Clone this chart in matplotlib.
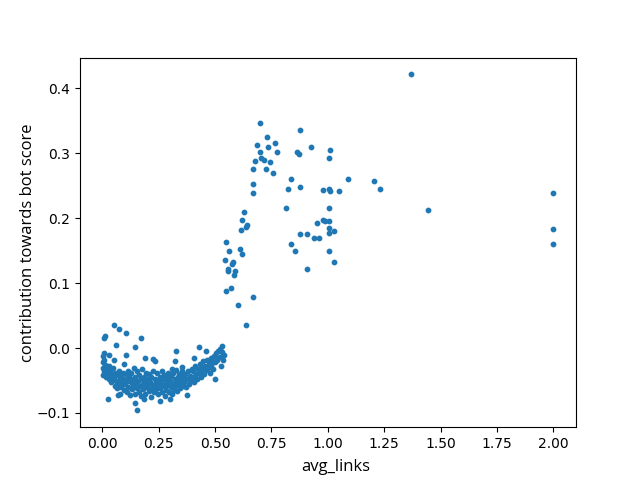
import numpy as np
import matplotlib
matplotlib.use('Agg')
import matplotlib.pyplot as plt

# points: the upper (bot-like) group
x_high = [0.698, 0.875, 0.729, 0.764, 0.684, 0.737, 0.924, 0.698, 0.773, 0.862,
          0.871, 1.012, 1.004, 0.702, 0.715, 0.675, 0.742, 0.667, 0.724, 0.755,
          0.835, 1.088, 1.203, 1.230, 0.822, 0.879, 0.977, 1.004, 1.011, 1.048,
          0.667, 0.667, 0.813, 1.004, 1.443, 0.627, 0.618, 0.640, 0.636, 0.613,
          0.950, 0.981, 0.986, 1.004, 1.004, 1.026, 1.004, 0.879, 0.910, 0.937,
          0.959, 0.547, 0.835, 0.560, 0.853, 0.609, 0.618, 1.004, 0.542, 0.578,
          0.573, 1.026, 0.556, 0.556, 0.587, 0.582, 0.910, 0.569, 0.547, 0.667,
          0.600, 0.636, 1.367, 2.001, 1.997, 2.001]
y_high = [0.346, 0.335, 0.324, 0.316, 0.312, 0.309, 0.310, 0.301, 0.301, 0.302,
          0.298, 0.304, 0.293, 0.292, 0.290, 0.287, 0.286, 0.275, 0.275, 0.270,
          0.260, 0.260, 0.257, 0.244, 0.244, 0.247, 0.243, 0.245, 0.242, 0.241,
          0.252, 0.238, 0.215, 0.215, 0.212, 0.210, 0.197, 0.189, 0.186, 0.181,
          0.193, 0.197, 0.195, 0.195, 0.185, 0.180, 0.177, 0.176, 0.175, 0.170,
          0.170, 0.163, 0.160, 0.150, 0.150, 0.153, 0.145, 0.150, 0.135, 0.133,
          0.130, 0.132, 0.121, 0.118, 0.118, 0.113, 0.121, 0.093, 0.087, 0.078,
          0.066, 0.035, 0.421, 0.238, 0.183, 0.160]

# scattered points round the low cluster
x_edge = [0.053, 0.072, 0.103, 0.013, 0.006, 0.170, 0.062, 0.143, 0.325, 0.431,
          0.458, 0.529, 0.520, 0.006, 0.103, 0.188, 0.223, 0.232, 0.321, 0.028,
          0.006, 0.050, 0.094, 0.352, 0.405, 0.502, 0.538, 0.525, 0.498, 0.024,
          0.068, 0.077, 0.143, 0.152, 0.183, 0.254, 0.298, 0.374, 0.307, 0.343]
y_edge = [0.036, 0.030, 0.023, 0.019, 0.015, 0.015, 0.004, 0.001, -0.004, 0.001,
          -0.004, 0.003, -0.002, -0.008, -0.010, -0.016, -0.017, -0.020, -0.020, -0.011,
          -0.019, -0.019, -0.024, -0.029, -0.015, -0.013, -0.010, -0.027, -0.048, -0.079,
          -0.073, -0.071, -0.084, -0.096, -0.079, -0.082, -0.079, -0.073, -0.033, -0.042]

# the dense band of low values
x_band = [0.002, 0.005, 0.008, 0.010, 0.012, 0.015, 0.018, 0.020, 0.022, 0.025,
          0.028, 0.030, 0.033, 0.036, 0.040, 0.042, 0.045, 0.048, 0.003, 0.001,
          0.052, 0.055, 0.058, 0.062, 0.065, 0.068, 0.072, 0.075, 0.078, 0.082,
          0.085, 0.088, 0.092, 0.095, 0.098,
          0.102, 0.105, 0.108, 0.110, 0.113, 0.116, 0.119, 0.122, 0.125, 0.128,
          0.131, 0.134, 0.137, 0.140, 0.143, 0.146, 0.149, 0.152, 0.155, 0.158,
          0.161, 0.164, 0.167, 0.170, 0.173, 0.176, 0.179, 0.182, 0.185, 0.188,
          0.191, 0.194, 0.197,
          0.200, 0.203, 0.206, 0.209, 0.212, 0.215, 0.218, 0.221, 0.224, 0.227,
          0.230, 0.233, 0.236, 0.239, 0.242, 0.245, 0.248, 0.251, 0.254, 0.257,
          0.260, 0.263, 0.266, 0.269, 0.272, 0.275, 0.278, 0.281, 0.284, 0.287,
          0.290, 0.293, 0.296,
          0.300, 0.303, 0.306, 0.309, 0.312, 0.315, 0.318, 0.321, 0.324, 0.327,
          0.330, 0.333, 0.336, 0.339, 0.342, 0.345, 0.348, 0.352, 0.356, 0.360,
          0.364, 0.368, 0.372, 0.376, 0.380, 0.384, 0.388, 0.392, 0.396,
          0.400, 0.404, 0.408, 0.412, 0.416, 0.420, 0.424, 0.428, 0.432, 0.436,
          0.440, 0.444, 0.448, 0.452, 0.456, 0.460, 0.464, 0.468, 0.472, 0.476,
          0.480, 0.484, 0.488, 0.492, 0.496, 0.500, 0.505, 0.510, 0.515, 0.520,
          0.530, 0.535]
y_band = [-0.022, -0.030, -0.036, -0.026, -0.040, -0.033, -0.045, -0.028, -0.038, -0.035,
          -0.048, -0.027, -0.043, -0.034, -0.052, -0.040, -0.048, -0.031, -0.042, -0.012,
          -0.045, -0.058, -0.038, -0.050, -0.062, -0.042, -0.055, -0.035, -0.048, -0.060,
          -0.044, -0.052, -0.038, -0.065, -0.047,
          -0.055, -0.040, -0.068, -0.050, -0.035, -0.060, -0.045, -0.072, -0.052, -0.038,
          -0.063, -0.048, -0.057, -0.031, -0.070, -0.044, -0.054, -0.062, -0.036, -0.050,
          -0.067, -0.042, -0.058, -0.048, -0.074, -0.033, -0.055, -0.063, -0.045, -0.052,
          -0.070, -0.038, -0.060,
          -0.048, -0.056, -0.066, -0.040, -0.052, -0.075, -0.044, -0.061, -0.035, -0.057,
          -0.068, -0.047, -0.053, -0.063, -0.039, -0.058, -0.071, -0.050, -0.044, -0.062,
          -0.055, -0.036, -0.067, -0.048, -0.058, -0.042, -0.074, -0.052, -0.064, -0.045,
          -0.057, -0.038, -0.068,
          -0.050, -0.060, -0.043, -0.071, -0.055, -0.038, -0.064, -0.048, -0.058, -0.034,
          -0.052, -0.066, -0.045, -0.056, -0.040, -0.062, -0.050, -0.035, -0.058, -0.046,
          -0.053, -0.040, -0.060, -0.048, -0.036, -0.055, -0.043, -0.050, -0.032,
          -0.045, -0.036, -0.052, -0.028, -0.040, -0.048, -0.032, -0.038, -0.025, -0.044,
          -0.030, -0.036, -0.020, -0.040, -0.028, -0.034, -0.018, -0.030, -0.024, -0.038,
          -0.015, -0.026, -0.020, -0.032, -0.012, -0.022, -0.008, -0.018, -0.004, -0.014,
          -0.006, -0.018]

x = np.array(x_band + x_edge + x_high)
y = np.array(y_band + y_edge + y_high)

fig, ax = plt.subplots(figsize=(6.4, 4.8), dpi=100)
ax.scatter(x, y, s=10, color='#1f77b4')

ax.set_xticks([0.0, 0.25, 0.5, 0.75, 1.0, 1.25, 1.5, 1.75, 2.0])
ax.set_xlabel('avg_links', family='Open Sans', fontsize=12, x=0.516, labelpad=5.5)
ax.set_ylabel('contribution towards bot score', family='Open Sans', fontsize=12,
              labelpad=0.8)

fig.savefig('out.png')
